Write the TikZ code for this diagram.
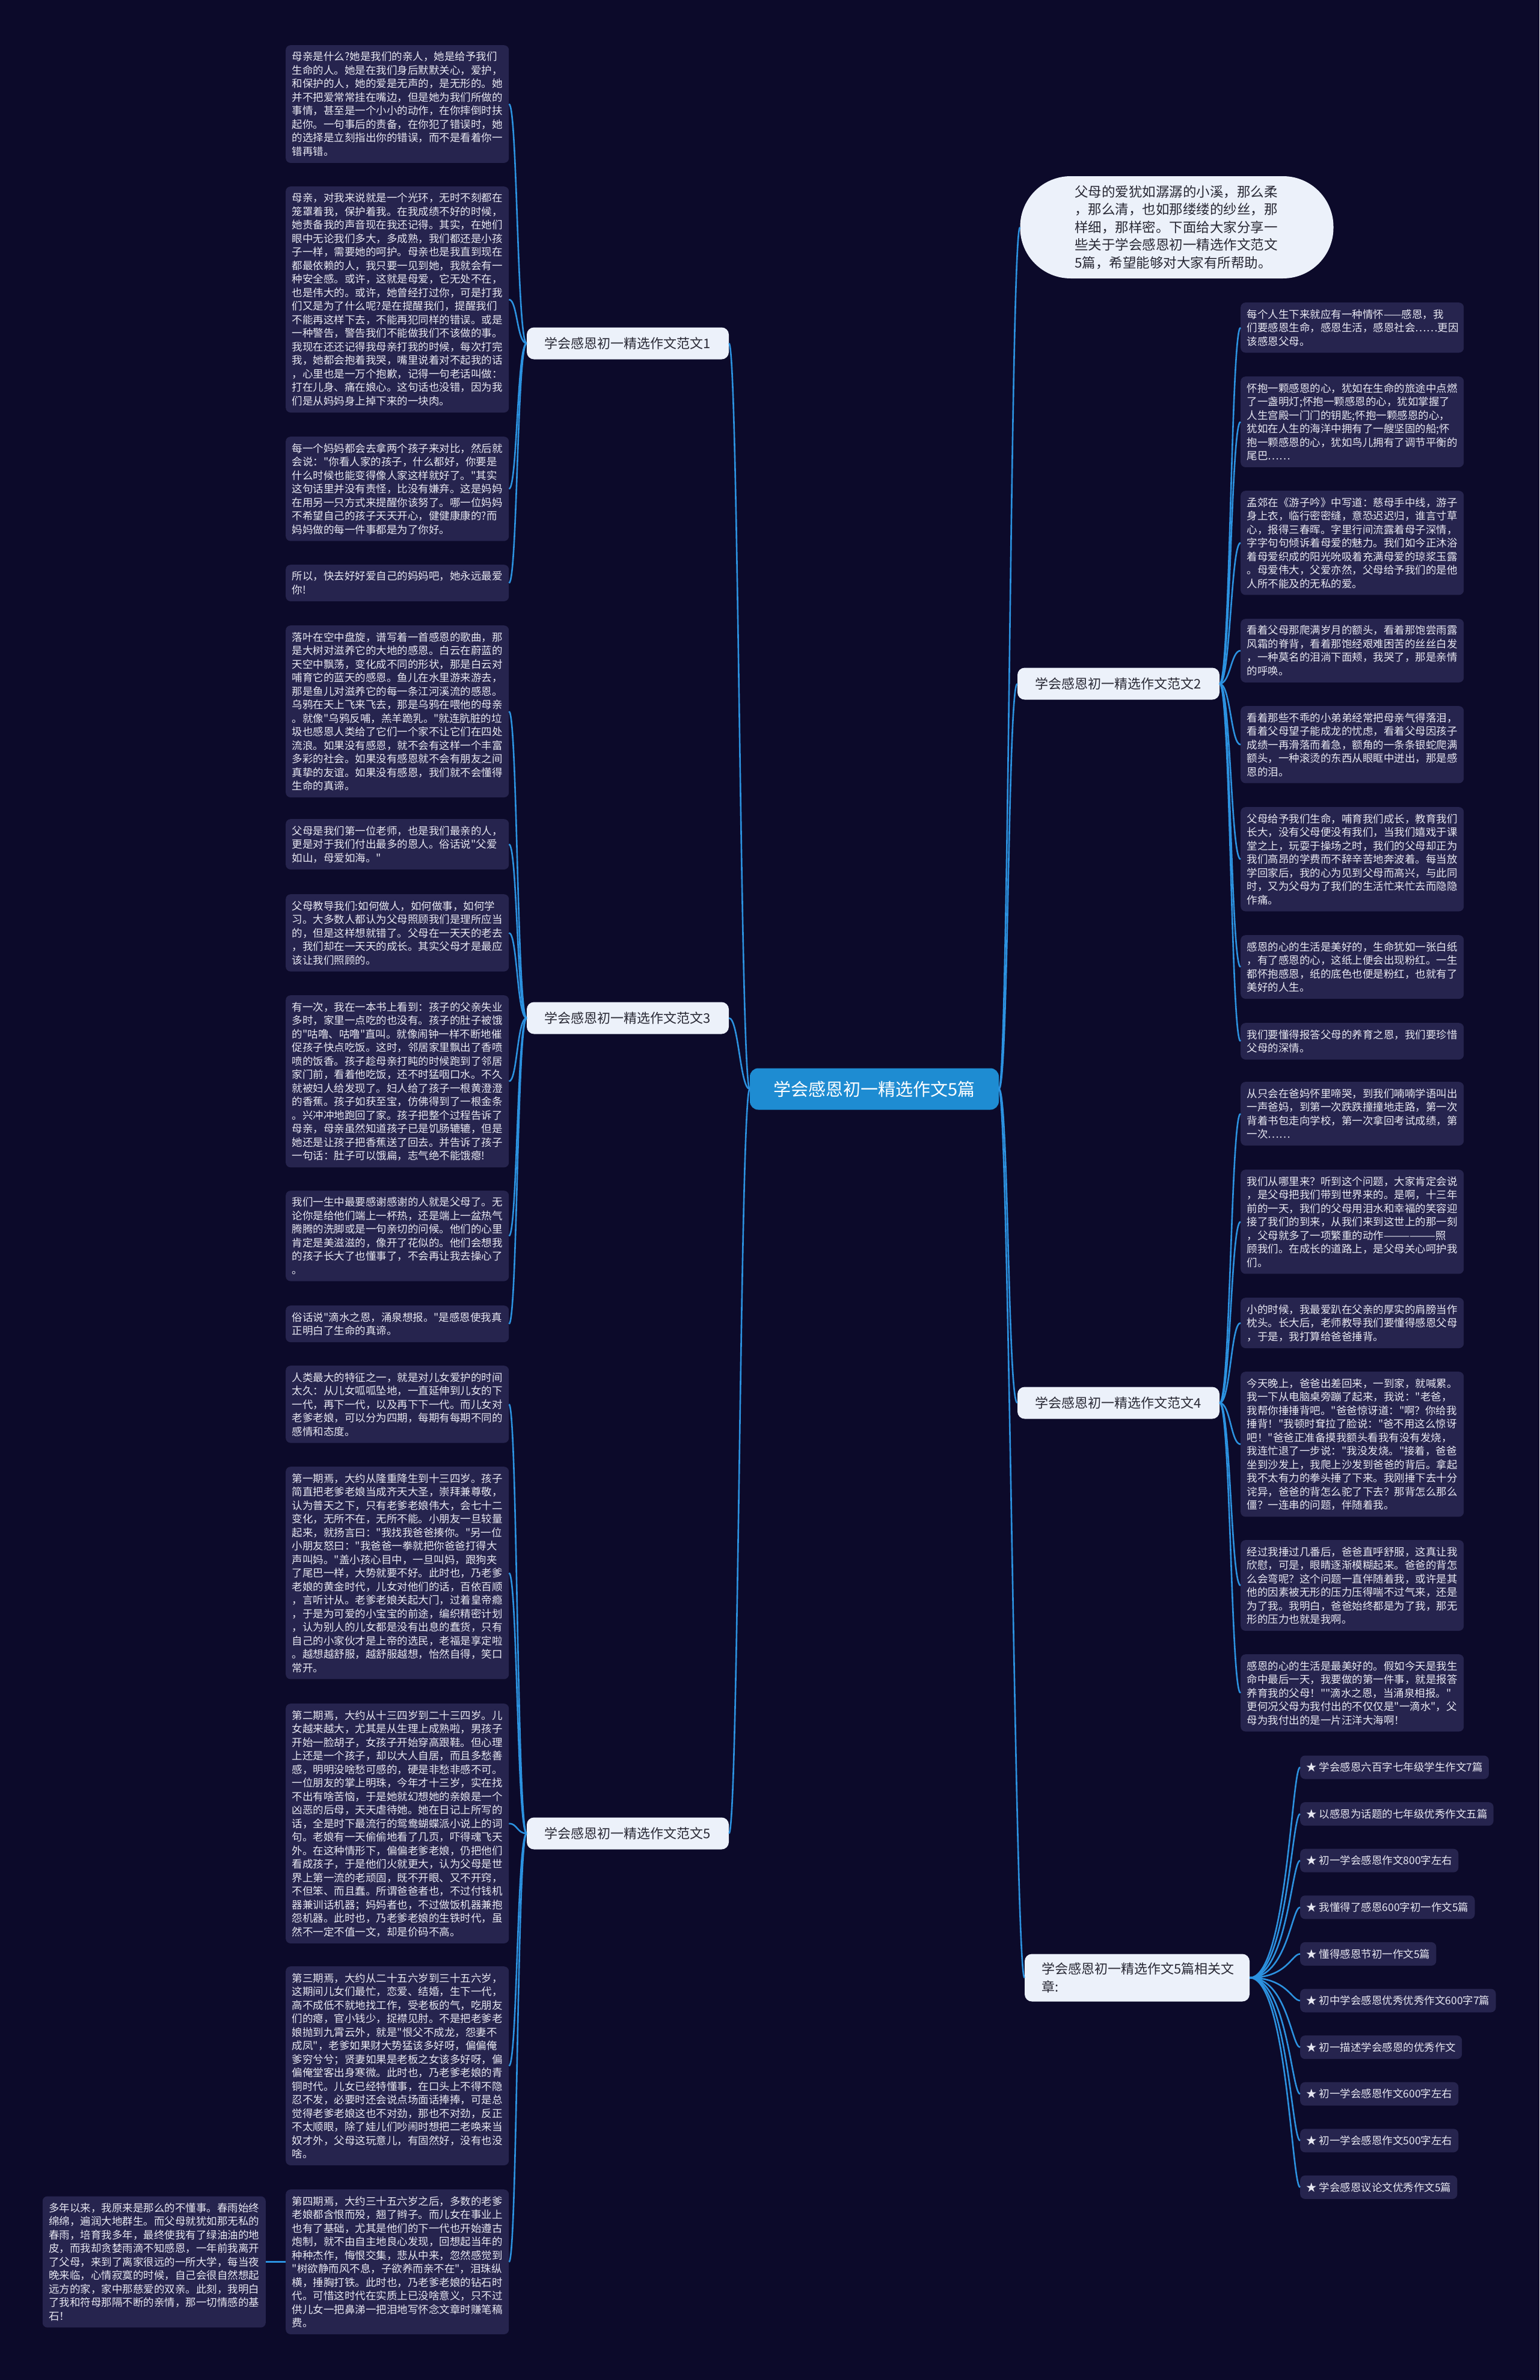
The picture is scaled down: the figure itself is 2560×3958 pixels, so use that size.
\documentclass[tikz,border=0pt]{standalone}
\usepackage{fontspec}
\setmainfont{Noto Sans CJK SC}
\newfontfamily\zh{Noto Sans CJK SC}
\usetikzlibrary{calc}
\definecolor{bgc}{RGB}{12,10,42}
\definecolor{boxc}{RGB}{38,36,78}
\definecolor{txtc}{RGB}{232,232,242}
\definecolor{linec}{RGB}{44,146,224}
\definecolor{cblue}{RGB}{30,140,210}
\definecolor{brc}{RGB}{236,241,250}
\definecolor{brtext}{RGB}{40,40,52}
\newcommand\leaffont{\zh\fontsize{17.5pt}{22.5pt}\selectfont}
\begin{document}
\begin{tikzpicture}[x=1pt,y=-1pt,
  leaf/.style={fill=boxc, rounded corners=8pt, text=txtc, font=\leaffont, align=left,
    text width=350pt, inner xsep=10.5pt, inner ysep=11pt, anchor=north west},
  branch/.style={fill=brc, text=brtext, font=\zh\fontsize{22pt}{26pt}\selectfont,
    rounded corners=12pt, minimum width=336pt, minimum height=53pt, inner sep=0pt},
  centre/.style={fill=cblue, text=white, font=\zh\fontsize{29pt}{34pt}\selectfont,
    rounded corners=14pt, minimum width=414pt, minimum height=69pt, inner sep=0pt},
  listitem/.style={fill=boxc, rounded corners=8pt, text=txtc, font=\leaffont,
    inner xsep=10pt, inner ysep=0pt, minimum height=39pt, anchor=west},
  conn/.style={draw=linec, line width=2.6pt}
]
\fill[bgc] (0,0) rectangle (2560,3958);
\useasboundingbox (0,0) rectangle (2560,3958);

% centre and branches
\node[centre] (C) at (1454,1811) {学会感恩初一精选作文5篇};
\node[branch] (B1) at (1044,571) {学会感恩初一精选作文范文1};
\node[branch] (B3) at (1044,1693) {学会感恩初一精选作文范文3};
\node[branch] (B5) at (1044,3049) {学会感恩初一精选作文范文5};
\node[branch] (B2) at (1860,1137) {学会感恩初一精选作文范文2};
\node[branch] (B4) at (1860,2333) {学会感恩初一精选作文范文4};
\node[fill=brc, text=brtext, font=\zh\fontsize{22pt}{30pt}\selectfont, rounded corners=12pt,
  minimum width=374pt, minimum height=79pt, inner xsep=28pt, inner ysep=8pt,
  text width=318pt, align=left] (Rel) at (1891,3289) {学会感恩初一精选作文5篇相关文\\章:};
\node[fill=brc, text=brtext, font=\zh\fontsize{22.5pt}{29.5pt}\selectfont, rounded corners=84pt,
  minimum width=521pt, minimum height=170pt, text width=340pt, align=left, inner sep=0pt]
  (Top) at (1957,378) {父母的爱犹如潺潺的小溪，那么柔\\，那么清，也如那缕缕的纱丝，那\\样细，那样密。下面给大家分享一\\些关于学会感恩初一精选作文范文\\5篇，希望能够对大家有所帮助。};

% branch 1 leaves
\node[leaf] (L1a) at (475,75) {母亲是什么?她是我们的亲人，她是给予我们\\生命的人。她是在我们身后默默关心，爱护，\\和保护的人，她的爱是无声的，是无形的。她\\并不把爱常常挂在嘴边，但是她为我们所做的\\事情，甚至是一个小小的动作，在你摔倒时扶\\起你。一句事后的责备，在你犯了错误时，她\\的选择是立刻指出你的错误，而不是看着你一\\错再错。};
\node[leaf] (L1b) at (475,310) {母亲，对我来说就是一个光环，无时不刻都在\\笼罩着我，保护着我。在我成绩不好的时候，\\她责备我的声音现在我还记得。其实，在她们\\眼中无论我们多大，多成熟，我们都还是小孩\\子一样，需要她的呵护。母亲也是我直到现在\\都最依赖的人，我只要一见到她，我就会有一\\种安全感。或许，这就是母爱，它无处不在，\\也是伟大的。或许，她曾经打过你，可是打我\\们又是为了什么呢?是在提醒我们，提醒我们\\不能再这样下去，不能再犯同样的错误。或是\\一种警告，警告我们不能做我们不该做的事。\\我现在还还记得我母亲打我的时候，每次打完\\我，她都会抱着我哭，嘴里说着对不起我的话\\，心里也是一万个抱歉，记得一句老话叫做：\\打在儿身、痛在娘心。这句话也没错，因为我\\们是从妈妈身上掉下来的一块肉。};
\node[leaf] (L1c) at (475,726) {每一个妈妈都会去拿两个孩子来对比，然后就\\会说："你看人家的孩子，什么都好，你要是\\什么时候也能变得像人家这样就好了。"其实\\这句话里并没有责怪，比没有嫌弃。这是妈妈\\在用另一只方式来提醒你该努了。哪一位妈妈\\不希望自己的孩子天天开心，健健康康的?而\\妈妈做的每一件事都是为了你好。};
\node[leaf] (L1d) at (475,939) {所以，快去好好爱自己的妈妈吧，她永远最爱\\你!};

% branch 3 leaves
\node[leaf] (L3a) at (475,1040) {落叶在空中盘旋，谱写着一首感恩的歌曲，那\\是大树对滋养它的大地的感恩。白云在蔚蓝的\\天空中飘荡，变化成不同的形状，那是白云对\\哺育它的蓝天的感恩。鱼儿在水里游来游去，\\那是鱼儿对滋养它的每一条江河溪流的感恩。\\乌鸦在天上飞来飞去，那是乌鸦在喂他的母亲\\。就像"乌鸦反哺，羔羊跪乳。"就连肮脏的垃\\圾也感恩人类给了它们一个家不让它们在四处\\流浪。如果没有感恩，就不会有这样一个丰富\\多彩的社会。如果没有感恩就不会有朋友之间\\真挚的友谊。如果没有感恩，我们就不会懂得\\生命的真谛。};
\node[leaf] (L3b) at (475,1362) {父母是我们第一位老师，也是我们最亲的人，\\更是对于我们付出最多的恩人。俗话说"父爱\\如山，母爱如海。"};
\node[leaf] (L3c) at (475,1487) {父母教导我们:如何做人，如何做事，如何学\\习。大多数人都认为父母照顾我们是理所应当\\的，但是这样想就错了。父母在一天天的老去\\，我们却在一天天的成长。其实父母才是最应\\该让我们照顾的。};
\node[leaf] (L3d) at (475,1655) {有一次，我在一本书上看到：孩子的父亲失业\\多时，家里一点吃的也没有。孩子的肚子被饿\\的"咕噜、咕噜"直叫。就像闹钟一样不断地催\\促孩子快点吃饭。这时，邻居家里飘出了香喷\\喷的饭香。孩子趁母亲打盹的时候跑到了邻居\\家门前，看着他吃饭，还不时猛咽口水。不久\\就被妇人给发现了。妇人给了孩子一根黄澄澄\\的香蕉。孩子如获至宝，仿佛得到了一根金条\\。兴冲冲地跑回了家。孩子把整个过程告诉了\\母亲，母亲虽然知道孩子已是饥肠辘辘，但是\\她还是让孩子把香蕉送了回去。并告诉了孩子\\一句话：肚子可以饿扁，志气绝不能饿瘪!};
\node[leaf] (L3e) at (475,1980) {我们一生中最要感谢感谢的人就是父母了。无\\论你是给他们端上一杯热，还是端上一盆热气\\腾腾的洗脚或是一句亲切的问候。他们的心里\\肯定是美滋滋的，像开了花似的。他们会想我\\的孩子长大了也懂事了，不会再让我去操心了\\。};
\node[leaf] (L3f) at (475,2171) {俗话说"滴水之恩，涌泉想报。"是感恩使我真\\正明白了生命的真谛。};

% branch 5 leaves
\node[leaf] (L5a) at (475,2271) {人类最大的特征之一，就是对儿女爱护的时间\\太久：从儿女呱呱坠地，一直延伸到儿女的下\\一代，再下一代，以及再下下一代。而儿女对\\老爹老娘，可以分为四期，每期有每期不同的\\感情和态度。};
\node[leaf] (L5b) at (475,2439) {第一期焉，大约从隆重降生到十三四岁。孩子\\简直把老爹老娘当成齐天大圣，崇拜兼尊敬，\\认为普天之下，只有老爹老娘伟大，会七十二\\变化，无所不在，无所不能。小朋友一旦较量\\起来，就扬言曰："我找我爸爸揍你。"另一位\\小朋友怒曰："我爸爸一拳就把你爸爸打得大\\声叫妈。"盖小孩心目中，一旦叫妈，跟狗夹\\了尾巴一样，大势就要不好。此时也，乃老爹\\老娘的黄金时代，儿女对他们的话，百依百顺\\，言听计从。老爹老娘关起大门，过着皇帝瘾\\，于是为可爱的小宝宝的前途，编织精密计划\\，认为别人的儿女都是没有出息的蠢货，只有\\自己的小家伙才是上帝的选民，老福是享定啦\\。越想越舒服，越舒服越想，怡然自得，笑口\\常开。};
\node[leaf] (L5c) at (475,2833) {第二期焉，大约从十三四岁到二十三四岁。儿\\女越来越大，尤其是从生理上成熟啦，男孩子\\开始一脸胡子，女孩子开始穿高跟鞋。但心理\\上还是一个孩子，却以大人自居，而且多愁善\\感，明明没啥愁可感的，硬是非愁非感不可。\\一位朋友的掌上明珠，今年才十三岁，实在找\\不出有啥苦恼，于是她就幻想她的亲娘是一个\\凶恶的后母，天天虐待她。她在日记上所写的\\话，全是时下最流行的鸳鸯蝴蝶派小说上的词\\句。老娘有一天偷偷地看了几页，吓得魂飞天\\外。在这种情形下，偏偏老爹老娘，仍把他们\\看成孩子，于是他们火就更大，认为父母是世\\界上第一流的老顽固，既不开眼、又不开窍，\\不但笨、而且蠢。所谓爸爸者也，不过付钱机\\器兼训话机器；妈妈者也，不过做饭机器兼抱\\怨机器。此时也，乃老爹老娘的生铁时代，虽\\然不一定不值一文，却是价码不高。};
\node[leaf] (L5d) at (475,3270) {第三期焉，大约从二十五六岁到三十五六岁，\\这期间儿女们最忙，恋爱、结婚，生下一代，\\高不成低不就地找工作，受老板的气，吃朋友\\们的瘪，官小钱少，捉襟见肘。不是把老爹老\\娘抛到九霄云外，就是"恨父不成龙，怨妻不\\成凤"，老爹如果财大势猛该多好呀，偏偏俺\\爹穷兮兮；贤妻如果是老板之女该多好呀，偏\\偏俺堂客出身寒微。此时也，乃老爹老娘的青\\铜时代。儿女已经特懂事，在口头上不得不隐\\忍不发，必要时还会说点场面话捧捧，可是总\\觉得老爹老娘这也不对劲，那也不对劲，反正\\不太顺眼，除了娃儿们吵闹时想把二老唤来当\\奴才外，父母这玩意儿，有固然好，没有也没\\啥。};
\node[leaf] (L5e) at (475,3641) {第四期焉，大约三十五六岁之后，多数的老爹\\老娘都含恨而殁，翘了辫子。而儿女在事业上\\也有了基础，尤其是他们的下一代也开始遵古\\炮制，就不由自主地良心发现，回想起当年的\\种种杰作，悔恨交集，悲从中来，忽然感觉到\\"树欲静而风不息，子欲养而亲不在"，泪珠纵\\横，捶胸打铁。此时也，乃老爹老娘的钻石时\\代。可惜这时代在实质上已没啥意义，只不过\\供儿女一把鼻涕一把泪地写怀念文章时赚笔稿\\费。};
\node[leaf, anchor=east] (L5x) at ($(L5e.west)+(-33,0)$) {多年以来，我原来是那么的不懂事。春雨始终\\绵绵，遍润大地群生。而父母就犹如那无私的\\春雨，培育我多年，最终使我有了绿油油的地\\皮，而我却贪婪雨滴不知感恩，一年前我离开\\了父母，来到了离家很远的一所大学，每当夜\\晚来临，心情寂寞的时候，自己会很自然想起\\远方的家，家中那慈爱的双亲。此刻，我明白\\了我和符母那隔不断的亲情，那一切情感的基\\石！};

% branch 2 leaves
\node[leaf] (R2a) at (2063,503) {每个人生下来就应有一种情怀——感恩，我\\们要感恩生命，感恩生活，感恩社会……更因\\该感恩父母。};
\node[leaf] (R2b) at (2063,626) {怀抱一颗感恩的心，犹如在生命的旅途中点燃\\了一盏明灯;怀抱一颗感恩的心，犹如掌握了\\人生宫殿一门门的钥匙;怀抱一颗感恩的心，\\犹如在人生的海洋中拥有了一艘坚固的船;怀\\抱一颗感恩的心，犹如鸟儿拥有了调节平衡的\\尾巴……};
\node[leaf] (R2c) at (2063,816) {孟郊在《游子吟》中写道：慈母手中线，游子\\身上衣，临行密密缝，意恐迟迟归，谁言寸草\\心，报得三春晖。字里行间流露着母子深情，\\字字句句倾诉着母爱的魅力。我们如今正沐浴\\着母爱织成的阳光吮吸着充满母爱的琼浆玉露\\。母爱伟大，父爱亦然，父母给予我们的是他\\人所不能及的无私的爱。};
\node[leaf] (R2d) at (2063,1029) {看着父母那爬满岁月的额头，看着那饱尝雨露\\风霜的脊背，看着那饱经艰难困苦的丝丝白发\\，一种莫名的泪淌下面颊，我哭了，那是亲情\\的呼唤。};
\node[leaf] (R2e) at (2063,1174) {看着那些不乖的小弟弟经常把母亲气得落泪，\\看着父母望子能成龙的忧虑，看着父母因孩子\\成绩一再滑落而着急，额角的一条条银蛇爬满\\额头，一种滚烫的东西从眼眶中迸出，那是感\\恩的泪。};
\node[leaf] (R2f) at (2063,1342) {父母给予我们生命，哺育我们成长，教育我们\\长大，没有父母便没有我们，当我们嬉戏于课\\堂之上，玩耍于操场之时，我们的父母却正为\\我们高昂的学费而不辞辛苦地奔波着。每当放\\学回家后，我的心为见到父母而高兴，与此同\\时，又为父母为了我们的生活忙来忙去而隐隐\\作痛。};
\node[leaf] (R2g) at (2063,1555) {感恩的心的生活是美好的，生命犹如一张白纸\\，有了感恩的心，这纸上便会出现粉红。一生\\都怀抱感恩，纸的底色也便是粉红，也就有了\\美好的人生。};
\node[leaf] (R2h) at (2063,1701) {我们要懂得报答父母的养育之恩，我们要珍惜\\父母的深情。};

% branch 4 leaves
\node[leaf] (R4a) at (2063,1799) {从只会在爸妈怀里啼哭，到我们喃喃学语叫出\\一声爸妈，到第一次跌跌撞撞地走路，第一次\\背着书包走向学校，第一次拿回考试成绩，第\\一次……};
\node[leaf] (R4b) at (2063,1945) {我们从哪里来？听到这个问题，大家肯定会说\\，是父母把我们带到世界来的。是啊，十三年\\前的一天，我们的父母用泪水和幸福的笑容迎\\接了我们的到来，从我们来到这世上的那一刻\\，父母就多了一项繁重的动作——————照\\顾我们。在成长的道路上，是父母关心呵护我\\们。};
\node[leaf] (R4c) at (2063,2158) {小的时候，我最爱趴在父亲的厚实的肩膀当作\\枕头。长大后，老师教导我们要懂得感恩父母\\，于是，我打算给爸爸捶背。};
\node[leaf] (R4d) at (2063,2281) {今天晚上，爸爸出差回来，一到家，就喊累。\\我一下从电脑桌旁蹦了起来，我说："老爸，\\我帮你捶捶背吧。"爸爸惊讶道："啊？你给我\\捶背！"我顿时耷拉了脸说："爸不用这么惊讶\\吧！"爸爸正准备摸我额头看我有没有发烧，\\我连忙退了一步说："我没发烧。"接着，爸爸\\坐到沙发上，我爬上沙发到爸爸的背后。拿起\\我不太有力的拳头捶了下来。我刚捶下去十分\\诧异，爸爸的背怎么驼了下去？那背怎么那么\\僵？一连串的问题，伴随着我。};
\node[leaf] (R4e) at (2063,2561) {经过我捶过几番后，爸爸直呼舒服，这真让我\\欣慰，可是，眼睛逐渐模糊起来。爸爸的背怎\\么会弯呢？这个问题一直伴随着我，或许是其\\他的因素被无形的压力压得喘不过气来，还是\\为了我。我明白，爸爸始终都是为了我，那无\\形的压力也就是我啊。};
\node[leaf] (R4f) at (2063,2751) {感恩的心的生活是最美好的。假如今天是我生\\命中最后一天，我要做的第一件事，就是报答\\养育我的父母！""滴水之恩，当涌泉相报。"\\更何况父母为我付出的不仅仅是"一滴水"，父\\母为我付出的是一片汪洋大海啊！};

% related list
\node[listitem] (K1) at (2162,2939) {★ 学会感恩六百字七年级学生作文7篇};
\node[listitem] (K2) at (2162,3016.6) {★ 以感恩为话题的七年级优秀作文五篇};
\node[listitem] (K3) at (2162,3094.2) {★ 初一学会感恩作文800字左右};
\node[listitem] (K4) at (2162,3171.8) {★ 我懂得了感恩600字初一作文5篇};
\node[listitem] (K5) at (2162,3249.4) {★ 懂得感恩节初一作文5篇};
\node[listitem] (K6) at (2162,3327) {★ 初中学会感恩优秀优秀作文600字7篇};
\node[listitem] (K7) at (2162,3404.6) {★ 初一描述学会感恩的优秀作文};
\node[listitem] (K8) at (2162,3482.2) {★ 初一学会感恩作文600字左右};
\node[listitem] (K9) at (2162,3559.8) {★ 初一学会感恩作文500字左右};
\node[listitem] (K10) at (2162,3637.4) {★ 学会感恩议论文优秀作文5篇};

% connectors: centre to branches
\foreach \b in {B1,B3,B5}
  \draw[conn] (C.west) .. controls ($(C.west)+(-16,0)$) and ($(\b.east)+(16,0)$) .. (\b.east);
\foreach \b in {Top,B2,B4,Rel}
  \draw[conn] (C.east) .. controls ($(C.east)+(16,0)$) and ($(\b.west)+(-16,0)$) .. (\b.west);

% branches to leaves
\foreach \n in {L1a,L1b,L1c,L1d}
  \draw[conn] (B1.west) .. controls ($(B1.west)+(-16,0)$) and ($(\n.east)+(14,0)$) .. (\n.east);
\foreach \n in {L3a,L3b,L3c,L3d,L3e,L3f}
  \draw[conn] (B3.west) .. controls ($(B3.west)+(-16,0)$) and ($(\n.east)+(14,0)$) .. (\n.east);
\foreach \n in {L5a,L5b,L5c,L5d,L5e}
  \draw[conn] (B5.west) .. controls ($(B5.west)+(-16,0)$) and ($(\n.east)+(14,0)$) .. (\n.east);
\draw[conn] (L5e.west) -- (L5x.east);
\foreach \n in {R2a,R2b,R2c,R2d,R2e,R2f,R2g,R2h}
  \draw[conn] (B2.east) .. controls ($(B2.east)+(18,0)$) and ($(\n.west)+(-16,0)$) .. (\n.west);
\foreach \n in {R4a,R4b,R4c,R4d,R4e,R4f}
  \draw[conn] (B4.east) .. controls ($(B4.east)+(18,0)$) and ($(\n.west)+(-16,0)$) .. (\n.west);
\foreach \n in {K1,K2,K3,K4,K5,K6,K7,K8,K9,K10}
  \draw[conn] (Rel.east) .. controls ($(Rel.east)+(62,0)$) and ($(\n.west)+(-14,0)$) .. (\n.west);
\end{tikzpicture}
\end{document}
